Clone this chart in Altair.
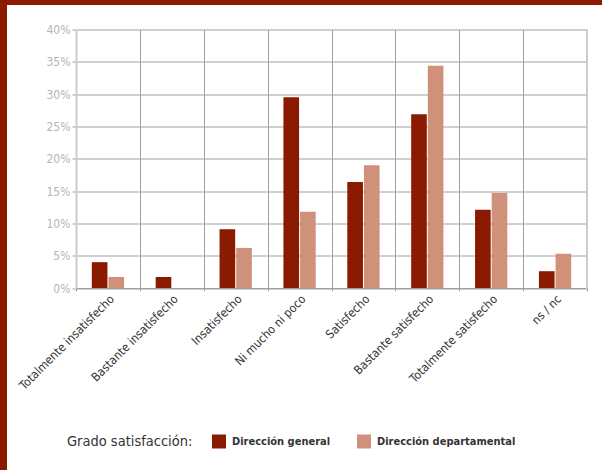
import altair as alt
import pandas as pd

# Satisfaction level categories (x axis)
categorias = [
    "Totalmente insatisfecho",
    "Bastante insatisfecho",
    "Insatisfecho",
    "Ni mucho ni poco",
    "Satisfecho",
    "Bastante satisfecho",
    "Totalmente satisfecho",
    "ns / nc",
]

# Percentages per series
direccion_general = [4.0, 1.7, 9.1, 29.5, 16.4, 26.9, 12.1, 2.6]
direccion_departamental = [1.7, 0.0, 6.2, 11.8, 19.0, 34.4, 14.7, 5.3]

series = ["Dirección general", "Dirección departamental"]
colores = ["#8a1a00", "#cf917a"]

y_ticks = [0, 5, 10, 15, 20, 25, 30, 35, 40]

rows = []
for i, c in enumerate(categorias):
    rows.append({"categoria": c, "serie": series[0], "valor": direccion_general[i]})
    rows.append({"categoria": c, "serie": series[1], "valor": direccion_departamental[i]})
df = pd.DataFrame(rows)

FONT = "DejaVu Sans Condensed, sans-serif"

bars = alt.Chart(df).mark_bar(clip=False).encode(
    x=alt.X(
        "categoria:N",
        sort=categorias,
        scale=alt.Scale(paddingInner=0, paddingOuter=0),
        axis=alt.Axis(
            title=None,
            labelAngle=-45,
            labelFont=FONT,
            labelFontSize=12,
            labelColor="#333333",
            labelPadding=2,
            tickBand="extent",
            grid=True,
            gridColor="#a0a0a0",
            gridWidth=1,
            tickColor="#a0a0a0",
            tickSize=3,
            domainColor="#a0a0a0",
            domainWidth=1,
        ),
    ),
    xOffset=alt.XOffset(
        "serie:N",
        sort=series,
        scale=alt.Scale(paddingInner=0.06, paddingOuter=0.95),
    ),
    y=alt.Y(
        "valor:Q",
        scale=alt.Scale(domain=[0, 40], nice=False),
        axis=alt.Axis(
            title=None,
            values=y_ticks,
            labelExpr="datum.value + '%'",
            labelFont=FONT,
            labelFontSize=12,
            labelColor="#b5b5b5",
            labelPadding=2,
            grid=True,
            gridColor="#a0a0a0",
            gridWidth=1,
            tickColor="#a0a0a0",
            tickSize=4,
            domainColor="#cccccc",
            domainWidth=2,
        ),
    ),
    color=alt.Color(
        "serie:N",
        sort=series,
        scale=alt.Scale(domain=series, range=colores),
        legend=alt.Legend(
            title="Grado satisfacción:",
            orient="none",
            legendX=-9,
            legendY=405,
            direction="horizontal",
            titleOrient="left",
            titleFont=FONT,
            titleFontSize=14.5,
            titleFontWeight="normal",
            titleColor="#333333",
            titlePadding=19,
            labelFont=FONT,
            labelFontSize=11,
            labelFontWeight="bold",
            labelColor="#333333",
            labelLimit=300,
            symbolType="square",
            symbolSize=196,
            symbolStrokeWidth=0,
            symbolOpacity=1,
            columnPadding=26,
            labelOffset=6,
        ),
    ),
)

# Right edge of the plot frame
frame_right = alt.Chart(df).mark_rule(color="#cccccc", strokeWidth=2).encode(
    x=alt.value(511), y=alt.value(0), y2=alt.value(259)
)

# Decorative dark red border on the left and top of the page
border_left = alt.Chart(df).mark_rule(color="#8a1a00", strokeWidth=7, clip=False).encode(
    x=alt.value(-72.5), y=alt.value(-30), y2=alt.value(441)
)
border_top = alt.Chart(df).mark_rule(color="#8a1a00", strokeWidth=5, clip=False).encode(
    y=alt.value(-27.5), x=alt.value(-76), x2=alt.value(526)
)

chart = (
    alt.layer(bars, frame_right, border_left, border_top)
    .properties(
        width=511,
        height=258.5,
        padding={"left": 76, "top": 29.5, "right": 15, "bottom": 182},
        autosize=alt.AutoSizeParams(type="none"),
        background="white",
    )
    .configure_view(stroke=None)
)

chart.save("out.html", embed_options={"renderer": "svg", "actions": False})
